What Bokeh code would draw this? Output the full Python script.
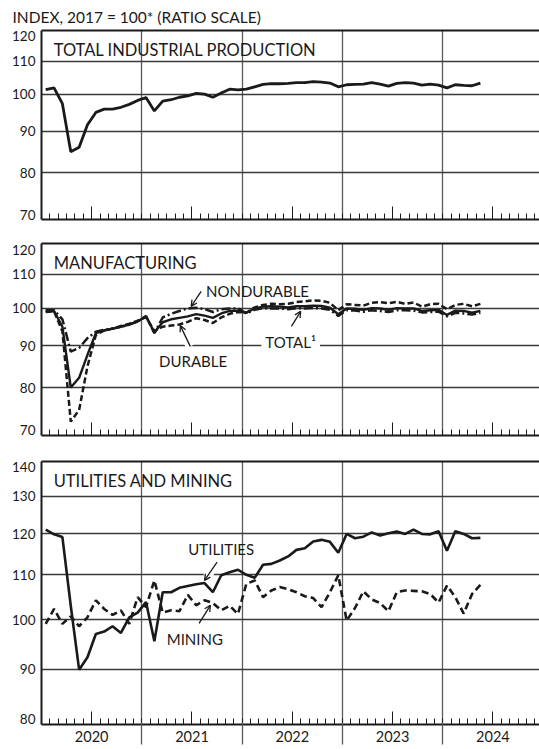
from bokeh.plotting import figure
from bokeh.layouts import column
from bokeh.models import (Range1d, FixedTicker, Label, Arrow, OpenHead, LinearAxis,
                          NumeralTickFormatter, Title)
from bokeh.embed import file_html
from bokeh.resources import INLINE

# ---------------- data (monthly, Jan 2020 .. May 2024; index 2017 = 100) ----------------
months = [f"{y}-{m:02d}" for y in range(2020, 2025) for m in range(1, 13)][:53]

total_ip = [101.4, 101.9, 97.4, 84.9, 86.0, 91.7, 95.0, 95.9, 95.9, 96.4, 97.2, 98.3,
            99.1, 95.4, 98.1, 98.5, 99.2, 99.6, 100.3, 100.1, 99.2, 100.4, 101.5, 101.3,
            101.5, 102.2, 102.9, 103.1, 103.1, 103.2, 103.4, 103.4, 103.7, 103.6, 103.3, 102.2,
            102.8, 102.9, 103.0, 103.4, 103.0, 102.4, 103.2, 103.4, 103.3, 102.7, 103.0, 102.7,
            101.9, 102.8, 102.6, 102.5, 103.3]

mfg_total = [99.2, 99.3, 95.0, 80.1, 82.3, 87.8, 93.3, 94.0, 94.5, 95.0, 95.6, 96.4,
             97.8, 93.5, 96.2, 97.0, 97.4, 97.8, 98.4, 98.0, 97.4, 98.6, 99.3, 99.4,
             98.8, 100.0, 100.5, 100.6, 100.5, 100.3, 100.6, 100.6, 100.8, 100.7, 100.2, 98.4,
             100.0, 99.9, 99.6, 100.1, 100.0, 99.6, 100.1, 100.0, 100.0, 99.3, 99.5, 99.6,
             98.2, 99.4, 99.3, 98.8, 99.3]

mfg_durable = [99.0, 99.2, 93.8, 72.8, 75.2, 85.0, 92.8, 94.0, 94.5, 95.2, 95.8, 96.6,
               97.6, 93.8, 95.0, 95.3, 95.6, 96.3, 97.3, 96.8, 96.0, 97.5, 98.5, 99.0,
               98.8, 100.3, 101.0, 101.3, 101.2, 101.3, 101.8, 102.0, 102.3, 102.2, 101.6, 99.5,
               101.2, 101.0, 100.8, 101.6, 101.8, 101.5, 101.9, 101.3, 101.7, 100.5, 101.2, 101.3,
               99.8, 101.0, 101.3, 100.6, 101.3]

mfg_nondurable = [99.5, 99.5, 97.0, 88.6, 89.5, 92.0, 93.7, 94.2, 94.5, 95.0, 95.6, 96.4,
                  97.9, 93.3, 97.5, 98.5, 99.3, 100.0, 100.2, 99.8, 99.0, 99.8, 100.0, 100.0,
                  98.6, 99.6, 100.1, 100.0, 100.0, 99.8, 100.1, 100.0, 100.1, 100.0, 99.6, 97.9,
                  99.5, 99.4, 99.1, 99.5, 99.3, 99.0, 99.5, 99.5, 99.4, 98.9, 99.0, 99.1,
                  97.8, 98.8, 98.6, 98.3, 98.8]

utilities = [121.1, 119.9, 119.2, 103.0, 89.9, 92.3, 97.0, 97.5, 98.6, 97.2, 100.5, 101.5,
             103.8, 95.5, 106.0, 106.0, 107.0, 107.4, 107.8, 108.1, 106.0, 109.9, 110.6, 111.2,
             110.0, 109.3, 112.4, 112.6, 113.4, 114.4, 116.0, 116.4, 118.1, 118.5, 118.0, 115.3,
             120.0, 118.9, 119.3, 120.4, 119.6, 120.2, 120.6, 120.0, 121.1, 120.0, 119.9, 120.7,
             115.8, 120.7, 120.0, 118.9, 119.0]

mining = [99.1, 102.3, 99.1, 100.7, 98.6, 100.5, 104.2, 102.3, 101.0, 102.0, 99.1, 104.9,
          102.7, 108.7, 101.5, 102.0, 101.8, 105.4, 103.1, 104.2, 103.6, 102.0, 103.0, 101.2,
          107.9, 108.7, 104.9, 106.4, 107.2, 106.7, 106.0, 105.1, 104.7, 102.7, 106.0, 109.9,
          99.8, 102.5, 106.2, 104.4, 103.6, 101.8, 106.0, 106.4, 106.3, 106.2, 105.6, 103.7,
          107.5, 104.9, 101.3, 105.6, 107.7]

year_labels = ["2020", "2021", "2022", "2023", "2024"]
ticks_top = [70, 80, 90, 100, 110, 120]
ticks_bottom = [80, 90, 100, 110, 120, 130, 140]


# month position (months since Jan 2020, plotted mid-month)
def mpos(label):
    y, m = label.split("-")
    return (int(y) - 2020) * 12 + int(m) - 1 + 0.5


x = [mpos(s) for s in months]

# ---------------- styling ----------------
FONT = "Lato"
INK = "#1a1a1a"
GRID = "#3a3a3a"
VGRID = "#5a5a5a"
W = 539
LEFT = 41
PX_PER_MONTH = 8.36
XMAX = (W - LEFT) / PX_PER_MONTH
YEAR_BOUNDS = [12, 24, 36, 48]
MID_YEARS = [6, 18, 30, 42, 54]
MONTH_TICKS = [m for m in range(1, 60) if m not in MID_YEARS]


def blank_labels(axis, ticks):
    axis.major_label_overrides = {t: "" for t in ticks}
    axis.major_label_text_font_size = "1px"
    axis.major_label_standoff = 0


def make_panel(height, top, bottom, yr, yticks, px_per_ln, show_years=False):
    p = figure(width=W, height=height, x_range=Range1d(0, XMAX), y_range=Range1d(*yr),
               y_axis_type="log", output_backend="svg", toolbar_location=None,
               min_border_left=LEFT, min_border_right=0, min_border_top=top,
               min_border_bottom=bottom)
    p.outline_line_color = None
    p.background_fill_color = "white"
    p.border_fill_color = "white"

    # the end labels sit a few pixels inside the frame, as in the original
    lo = round(yticks[0] * 2.718281828 ** (5.0 / px_per_ln), 3)
    hi = round(yticks[-1] * 2.718281828 ** (-6.0 / px_per_ln), 3)
    label_pos = [lo] + list(yticks[1:-1]) + [hi]
    ya = p.left[0]
    ya.ticker = FixedTicker(ticks=label_pos, minor_ticks=[])
    ya.formatter = NumeralTickFormatter(format="0")
    ya.major_label_overrides = {lo: str(yticks[0]), hi: str(yticks[-1])}
    ya.major_tick_out = 0
    ya.major_tick_in = 0
    ya.minor_tick_out = 0
    ya.minor_tick_in = 0
    ya.axis_line_color = INK
    ya.axis_line_width = 2
    ya.major_label_text_font = FONT
    ya.major_label_text_font_size = "13.5px"
    ya.major_label_text_color = INK
    ya.major_label_standoff = 6

    p.ygrid.ticker = FixedTicker(ticks=yticks[1:-1])
    p.ygrid.grid_line_color = GRID
    p.ygrid.grid_line_width = 1.3

    xa = p.below[0]
    xa.ticker = FixedTicker(ticks=MID_YEARS, minor_ticks=MONTH_TICKS)
    xa.major_tick_in = 13
    xa.major_tick_out = 0
    xa.minor_tick_in = 6
    xa.minor_tick_out = 0
    xa.major_tick_line_color = INK
    xa.minor_tick_line_color = INK
    xa.major_tick_line_width = 1
    xa.minor_tick_line_width = 1
    xa.axis_line_color = INK
    xa.axis_line_width = 2
    if show_years:
        xa.major_label_overrides = {t: lab for t, lab in zip(MID_YEARS, year_labels)}
        xa.major_label_text_font = FONT
        xa.major_label_text_font_size = "14.5px"
        xa.major_label_text_color = INK
        xa.major_label_standoff = 6
    else:
        blank_labels(xa, MID_YEARS)

    p.xgrid.ticker = FixedTicker(ticks=YEAR_BOUNDS)
    p.xgrid.grid_line_color = VGRID
    p.xgrid.grid_line_width = 1.3

    # top border of the frame (no ticks, no labels)
    top_axis = LinearAxis(ticker=FixedTicker(ticks=[], minor_ticks=[]),
                          axis_line_color=INK, axis_line_width=2,
                          major_tick_in=0, major_tick_out=0,
                          minor_tick_in=0, minor_tick_out=0, major_label_standoff=0)
    p.add_layout(top_axis, "above")
    return p


def add_text(p, tx, ty, text, size="15px", bg=None):
    lab = Label(x=tx, y=ty, text=text, text_font=FONT, text_font_size=size,
                text_color=INK, text_baseline="alphabetic")
    if bg:
        lab.background_fill_color = bg
        lab.padding = 4
    p.add_layout(lab)


def add_arrow(p, x0, y0, x1, y1, halo=None):
    if halo:
        f0, f1 = halo
        hx0, hx1 = x0 + (x1 - x0) * f0, x0 + (x1 - x0) * f1
        hy0, hy1 = y0 * (y1 / y0) ** f0, y0 * (y1 / y0) ** f1
        p.add_layout(Arrow(end=None, x_start=hx0, y_start=hy0, x_end=hx1, y_end=hy1,
                           line_color="white", line_width=9))
    p.add_layout(Arrow(end=OpenHead(size=6, line_width=1.3, line_color=INK),
                       x_start=x0, y_start=y0, x_end=x1, y_end=y1,
                       line_color=INK, line_width=1.3))


# ---------------- panel 1: total industrial production ----------------
p1 = make_panel(228, 27, 9, (70, 120), ticks_top, 356.0)
p1.title = Title(text="INDEX, 2017 = 100* (RATIO SCALE)", align="left", offset=-29,
                 standoff=10, text_font=FONT, text_font_size="15.5px",
                 text_font_style="normal", text_color=INK)
p1.line(x, total_ip, line_color=INK, line_width=2.8)
add_text(p1, 1.46, 113.5, "TOTAL INDUSTRIAL PRODUCTION", size="16.5px")

# ---------------- panel 2: manufacturing ----------------
p2 = make_panel(217, 15, 10, (70, 120), ticks_top, 356.0)
p2.line(x, mfg_nondurable, line_color=INK, line_width=2.5, line_dash="9 3 2 3")
p2.line(x, mfg_durable, line_color=INK, line_width=2.5, line_dash="6 3")
p2.line(x, mfg_total, line_color=INK, line_width=2.4)
add_text(p2, 1.46, 113.6, "MANUFACTURING", size="16.5px")
add_text(p2, 19.68, 104.9, "NONDURABLE", size="15px")
add_arrow(p2, 19.1, 104.9, 17.9, 100.6)
add_text(p2, 14.06, 86.2, "DURABLE", size="15px")
add_arrow(p2, 17.8, 89.9, 16.6, 95.3, halo=(0.0, 0.35))
add_text(p2, 26.3, 91.0, "TOTAL\u00b9", size="15px", bg="white")
add_arrow(p2, 29.9, 95.1, 31.0, 99.2)

# ---------------- panel 3: utilities and mining ----------------
p3 = make_panel(304, 16, 25, (80, 140), ticks_bottom, 470.0, show_years=True)
p3.line(x, mining, line_color=INK, line_width=2.6, line_dash="7 4")
p3.line(x, utilities, line_color=INK, line_width=2.6)
add_text(p3, 1.46, 134.4, "UTILITIES AND MINING", size="16.5px")
add_text(p3, 17.56, 116.2, "UTILITIES", size="15px")
add_arrow(p3, 21.0, 113.0, 19.5, 108.7, halo=(0.5, 0.8))
add_text(p3, 14.98, 96.0, "MINING", size="15px")
add_arrow(p3, 18.85, 99.2, 20.2, 103.1)

# year separators continuing below the frame
ext = LinearAxis(ticker=FixedTicker(ticks=YEAR_BOUNDS, minor_ticks=[]),
                 axis_line_color=None, major_tick_in=22, major_tick_out=0,
                 minor_tick_in=0, minor_tick_out=0,
                 major_tick_line_color=VGRID, major_tick_line_width=1.3)
blank_labels(ext, YEAR_BOUNDS)
p3.add_layout(ext, "below")

layout = column(p1, p2, p3, spacing=0)
open("out.html", "w").write(file_html(layout, INLINE))
